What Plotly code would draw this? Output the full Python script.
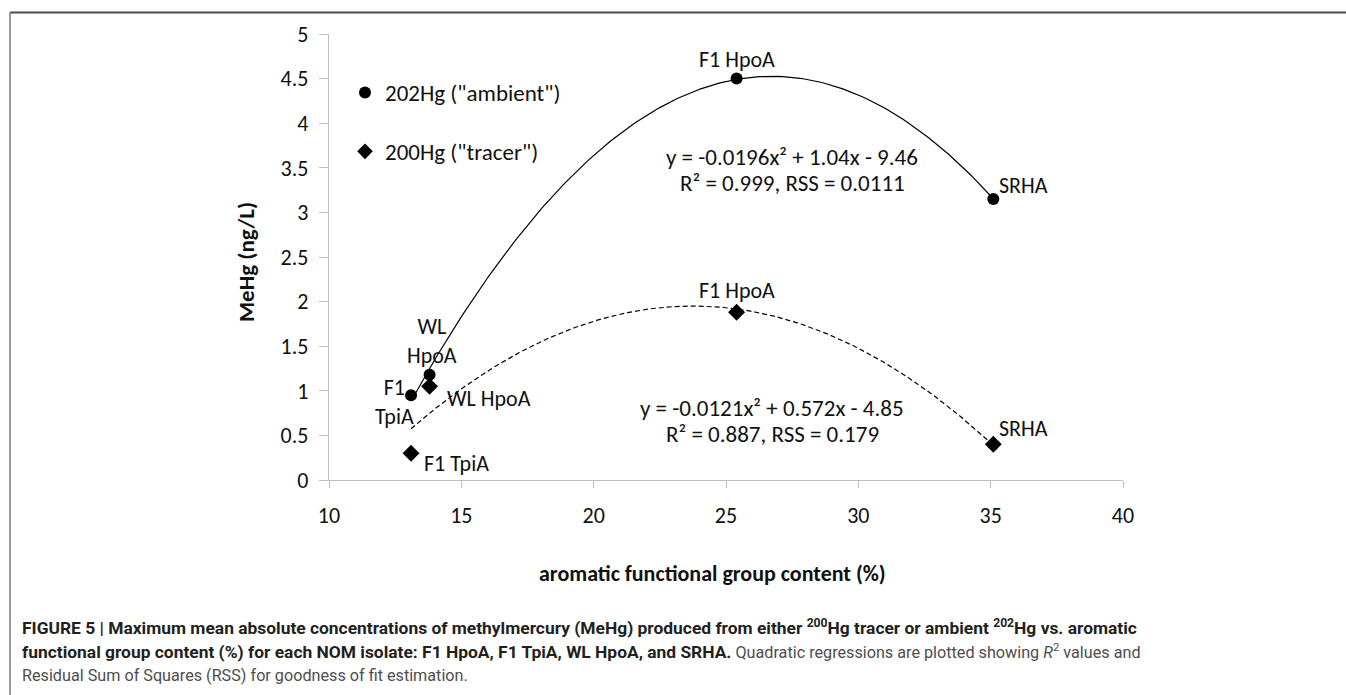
import numpy as np
import plotly.graph_objects as go

# ---------------- data ----------------
isolates = ["F1 TpiA", "WL HpoA", "F1 HpoA", "SRHA"]
aromatic_202 = [13.1, 13.8, 25.4, 35.1]
mehg_202 = [0.95, 1.18, 4.50, 3.15]
aromatic_200 = [13.1, 13.8, 25.4, 35.1]
mehg_200 = [0.30, 1.05, 1.88, 0.40]

x_ticks = [10, 15, 20, 25, 30, 35, 40]
y_ticks = [0, 0.5, 1, 1.5, 2, 2.5, 3, 3.5, 4, 4.5, 5]
y_tick_text = ["0", "0.5", "1", "1.5", "2", "2.5", "3", "3.5", "4", "4.5", "5"]

eq_202 = ["y = -0.0196x² + 1.04x - 9.46", "R² = 0.999, RSS = 0.0111"]
eq_200 = ["y = -0.0121x² + 0.572x - 4.85", "R² = 0.887, RSS = 0.179"]

# ---------------- layout geometry (pixels) ----------------
W, H = 1346, 695
L, R, T, B = 329, 1123, 34, 480


def px(x):
    return (x - L) / (R - L)


def py(y):
    return (B - y) / (B - T)


FONT = "Carlito, Lato, Calibri, sans-serif"
CAP_FONT = "Liberation Sans Narrow, Arial Narrow, Roboto, Arial, sans-serif"

fig = go.Figure()

# quadratic trendlines fitted to the data
for xs, ys, dash in [(aromatic_202, mehg_202, "solid"), (aromatic_200, mehg_200, "5px,3px")]:
    coef = np.polyfit(xs, ys, 2)
    xf = np.linspace(min(xs), max(xs), 200)
    fig.add_trace(go.Scatter(x=xf, y=np.polyval(coef, xf), mode="lines",
                             line=dict(color="black", width=1.2, dash=dash),
                             showlegend=False, hoverinfo="skip"))

fig.add_trace(go.Scatter(x=aromatic_202, y=mehg_202, mode="markers",
                         name='202Hg ("ambient")', legendgroup="a",
                         marker=dict(symbol="circle", size=12, color="black")))
fig.add_trace(go.Scatter(x=aromatic_200, y=mehg_200, mode="markers",
                         name='200Hg ("tracer")', legendgroup="b",
                         marker=dict(symbol="diamond", size=13, color="black")))

annotations = []
lab_font = dict(family=FONT, size=22, color="#111")
eq_font = dict(family=FONT, size=23, color="#111")

# point labels: (text, xanchor, xshift, yshift)
lab_202 = [("F1<br>TpiA", "center", -17, -7),
           ("WL<br>HpoA", "center", 2, 34),
           ("F1 HpoA", "center", 0, 19),
           ("SRHA", "left", 4, 14)]
lab_200 = [("F1 TpiA", "left", 11, -10),
           ("WL HpoA", "left", 15, -12),
           ("F1 HpoA", "center", 0, 22),
           ("SRHA", "left", 4, 16)]
for xs, ys, labs in [(aromatic_202, mehg_202, lab_202), (aromatic_200, mehg_200, lab_200)]:
    for xv, yv, (txt, xa, xsh, ysh) in zip(xs, ys, labs):
        annotations.append(dict(x=xv, y=yv, xref="x", yref="y", text=txt, showarrow=False,
                                xanchor=xa, yanchor="middle", xshift=xsh, yshift=ysh,
                                font=lab_font, align="center"))

for lines, cx, cy in [(eq_202, 792, 157), (eq_200, 772, 408)]:
    for i, line in enumerate(lines):
        annotations.append(dict(x=px(cx), y=py(cy + 26 * i), xref="paper", yref="paper",
                                text=line, showarrow=False, xanchor="center",
                                yanchor="middle", font=eq_font))

# axis titles
annotations.append(dict(x=px(712), y=py(573), xref="paper", yref="paper",
                        text="<b>aromatic functional group content (%)</b>", showarrow=False,
                        xanchor="center", yanchor="middle",
                        font=dict(family=FONT, size=22, color="#111")))
annotations.append(dict(x=px(246), y=py(262), xref="paper", yref="paper",
                        text="<b>MeHg (ng/L)</b>", showarrow=False, textangle=-90,
                        xanchor="center", yanchor="middle",
                        font=dict(family=FONT, size=23, color="#111")))

# caption
cap_font = dict(family=CAP_FONT, size=17.4, color="#231f20")
REG = "<span style='color:#4d4d4d;font-size:16.2px'>"
cap_lines = [
    ("<b>FIGURE 5 | Maximum mean absolute concentrations of methylmercury (MeHg) produced from either "
     "<sup>200</sup>Hg tracer or ambient <sup>202</sup>Hg vs. aromatic</b>", 627),
    ("<b>functional group content (%) for each NOM isolate: F1 HpoA, F1 TpiA, WL HpoA, and SRHA.</b>"
     + REG + " Quadratic regressions are plotted showing <i>R</i><sup>2</sup> values and</span>", 651),
    (REG + "Residual Sum of Squares (RSS) for goodness of fit estimation.</span>", 675),
]
for txt, yy in cap_lines:
    annotations.append(dict(x=px(20), y=py(yy), xref="paper", yref="paper", text=txt,
                            showarrow=False, xanchor="left", yanchor="middle",
                            font=cap_font, align="left"))

shapes = [
    dict(type="line", xref="paper", yref="paper", x0=px(10), x1=px(1346), y0=py(12.5), y1=py(12.5),
         line=dict(color="#4a4a4a", width=2)),
    dict(type="line", xref="paper", yref="paper", x0=px(10), x1=px(10), y0=py(12.5), y1=py(695),
         line=dict(color="#777777", width=1.5)),
]

axis_common = dict(showline=True, linecolor="#bfbfbf", linewidth=1.3, ticks="outside",
                   tickcolor="#bfbfbf", tickwidth=1.3, showgrid=False, zeroline=False,
                   tickfont=dict(family=FONT, size=22, color="#111"))

fig.update_layout(
    width=W, height=H,
    margin=dict(l=L, r=W - R, t=T, b=H - B),
    paper_bgcolor="white", plot_bgcolor="white",
    xaxis=dict(range=[10, 40], tickvals=x_ticks, ticklen=7, ticklabelstandoff=8, **axis_common),
    yaxis=dict(range=[0, 5], tickvals=y_ticks, ticktext=y_tick_text, ticklen=9,
               ticklabelstandoff=6, **axis_common),
    showlegend=True,
    legend=dict(x=px(345), y=py(71), xanchor="left", yanchor="top",
                bgcolor="rgba(0,0,0,0)", borderwidth=0, tracegroupgap=26,
                itemsizing="constant",
                font=dict(family=FONT, size=23, color="#111")),
    annotations=annotations,
    shapes=shapes,
)

fig.write_html("out.html")
